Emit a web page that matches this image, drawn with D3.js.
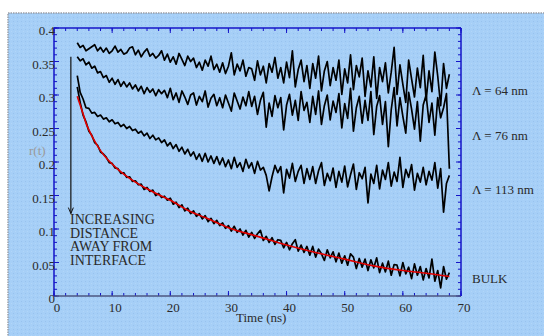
<!DOCTYPE html>
<html>
<head>
<meta charset="utf-8">
<script src="https://cdn.jsdelivr.net/npm/d3@7"></script>
<style>
    body { margin: 0; background: #fff; }
    svg { display: block; }
    text { font-family: "Liberation Serif", "Times New Roman", serif; }
</style>
</head>
<body>
<svg id="chart" width="544" height="336"></svg>
<script>
// time axis (ns), one sample every 0.5 ns
const time = [
    4, 4.5, 5, 5.5, 6, 6.5, 7, 7.5, 8, 8.5, 9, 9.5, 10, 10.5, 11, 11.5, 12, 12.5, 13, 13.5,
    14, 14.5, 15, 15.5, 16, 16.5, 17, 17.5, 18, 18.5, 19, 19.5, 20, 20.5, 21, 21.5, 22, 22.5, 23, 23.5,
    24, 24.5, 25, 25.5, 26, 26.5, 27, 27.5, 28, 28.5, 29, 29.5, 30, 30.5, 31, 31.5, 32, 32.5, 33, 33.5,
    34, 34.5, 35, 35.5, 36, 36.5, 37, 37.5, 38, 38.5, 39, 39.5, 40, 40.5, 41, 41.5, 42, 42.5, 43, 43.5,
    44, 44.5, 45, 45.5, 46, 46.5, 47, 47.5, 48, 48.5, 49, 49.5, 50, 50.5, 51, 51.5, 52, 52.5, 53, 53.5,
    54, 54.5, 55, 55.5, 56, 56.5, 57, 57.5, 58, 58.5, 59, 59.5, 60, 60.5, 61, 61.5, 62, 62.5, 63, 63.5,
    64, 64.5, 65, 65.5, 66, 66.5, 67, 67.5, 68
];

const lambda64 = [
    0.378, 0.371, 0.374, 0.366, 0.369, 0.372, 0.375, 0.366, 0.371, 0.364,
    0.370, 0.362, 0.366, 0.373, 0.364, 0.368, 0.361, 0.363, 0.370, 0.372,
    0.360, 0.367, 0.357, 0.364, 0.369, 0.358, 0.362, 0.355, 0.359, 0.366,
    0.352, 0.361, 0.349, 0.357, 0.346, 0.362, 0.353, 0.344, 0.358, 0.350,
    0.355, 0.341, 0.349, 0.337, 0.352, 0.343, 0.358, 0.338, 0.346, 0.334,
    0.348, 0.332, 0.343, 0.363, 0.330, 0.346, 0.336, 0.352, 0.328, 0.341,
    0.339, 0.322, 0.351, 0.330, 0.343, 0.318, 0.347, 0.334, 0.356, 0.325,
    0.341, 0.318, 0.349, 0.326, 0.366, 0.312, 0.338, 0.352, 0.320, 0.344,
    0.310, 0.347, 0.325, 0.358, 0.306, 0.336, 0.350, 0.314, 0.341, 0.322,
    0.352, 0.301, 0.339, 0.318, 0.360, 0.308, 0.344, 0.327, 0.355, 0.298,
    0.336, 0.312, 0.357, 0.295, 0.341, 0.320, 0.348, 0.303, 0.334, 0.371,
    0.301, 0.345, 0.316, 0.289, 0.352, 0.324, 0.297, 0.340, 0.311, 0.359,
    0.292, 0.336, 0.305, 0.364, 0.328, 0.284, 0.347, 0.310, 0.331
];

const lambda76 = [
    0.357, 0.351, 0.354, 0.345, 0.349, 0.340, 0.343, 0.333, 0.335, 0.326,
    0.329, 0.319, 0.325, 0.316, 0.323, 0.313, 0.320, 0.312, 0.318, 0.309,
    0.315, 0.306, 0.313, 0.302, 0.311, 0.304, 0.309, 0.299, 0.308, 0.302,
    0.307, 0.296, 0.310, 0.293, 0.303, 0.289, 0.306, 0.297, 0.286, 0.300,
    0.303, 0.285, 0.298, 0.290, 0.306, 0.282, 0.295, 0.301, 0.284, 0.296,
    0.281, 0.300, 0.288, 0.276, 0.303, 0.291, 0.279, 0.297, 0.284, 0.305,
    0.283, 0.298, 0.271, 0.292, 0.304, 0.252, 0.288, 0.268, 0.299, 0.281,
    0.296, 0.248, 0.285, 0.301, 0.270, 0.292, 0.262, 0.305, 0.277, 0.289,
    0.259, 0.298, 0.271, 0.306, 0.256, 0.284, 0.300, 0.263, 0.291, 0.274,
    0.302, 0.251, 0.287, 0.265, 0.310, 0.246, 0.281, 0.298, 0.258, 0.292,
    0.262, 0.305, 0.241, 0.283, 0.299, 0.256, 0.290, 0.223, 0.278, 0.311,
    0.254, 0.296, 0.268, 0.243, 0.304, 0.279, 0.249, 0.290, 0.231, 0.285,
    0.300, 0.259, 0.288, 0.240, 0.296, 0.266, 0.281, 0.302, 0.190
];

const lambda113 = [
    0.329, 0.304, 0.294, 0.281, 0.280, 0.273, 0.274, 0.268, 0.270, 0.264,
    0.266, 0.260, 0.263, 0.257, 0.259, 0.253, 0.256, 0.250, 0.253, 0.247,
    0.249, 0.243, 0.246, 0.239, 0.243, 0.235, 0.240, 0.233, 0.236, 0.229,
    0.233, 0.224, 0.229, 0.220, 0.226, 0.216, 0.222, 0.212, 0.219, 0.209,
    0.215, 0.204, 0.212, 0.201, 0.213, 0.200, 0.209, 0.198, 0.208, 0.196,
    0.206, 0.193, 0.203, 0.190, 0.207, 0.192, 0.199, 0.186, 0.204, 0.191,
    0.199, 0.183, 0.201, 0.188, 0.192, 0.180, 0.157, 0.178, 0.195, 0.184,
    0.193, 0.154, 0.189, 0.176, 0.198, 0.171, 0.186, 0.195, 0.168, 0.190,
    0.174, 0.193, 0.168, 0.187, 0.199, 0.165, 0.183, 0.172, 0.191, 0.162,
    0.186, 0.170, 0.194, 0.163, 0.181, 0.197, 0.159, 0.184, 0.175, 0.192,
    0.139, 0.182, 0.168, 0.195, 0.160, 0.188, 0.174, 0.199, 0.164, 0.185,
    0.171, 0.207, 0.162, 0.189, 0.177, 0.196, 0.158, 0.183, 0.170, 0.192,
    0.166, 0.186, 0.173, 0.199, 0.161, 0.190, 0.125, 0.168, 0.180
];

const bulk = [
    0.312, 0.289, 0.270, 0.260, 0.246, 0.240, 0.229, 0.225, 0.215, 0.212,
    0.207, 0.199, 0.198, 0.191, 0.190, 0.183, 0.184, 0.177, 0.178, 0.171,
    0.172, 0.166, 0.167, 0.159, 0.162, 0.156, 0.158, 0.150, 0.153, 0.147,
    0.149, 0.143, 0.146, 0.137, 0.140, 0.132, 0.136, 0.127, 0.131, 0.123,
    0.127, 0.119, 0.123, 0.115, 0.120, 0.111, 0.116, 0.108, 0.113, 0.105,
    0.109, 0.101, 0.105, 0.097, 0.104, 0.095, 0.100, 0.091, 0.098, 0.088,
    0.095, 0.086, 0.093, 0.098, 0.083, 0.089, 0.080, 0.087, 0.077, 0.084,
    0.083, 0.072, 0.080, 0.069, 0.078, 0.084, 0.067, 0.076, 0.065, 0.074,
    0.061, 0.074, 0.058, 0.070, 0.063, 0.053, 0.069, 0.057, 0.066, 0.051,
    0.064, 0.049, 0.060, 0.046, 0.063, 0.058, 0.041, 0.056, 0.043, 0.055,
    0.038, 0.054, 0.042, 0.057, 0.035, 0.049, 0.036, 0.052, 0.031, 0.047,
    0.046, 0.030, 0.050, 0.033, 0.043, 0.026, 0.048, 0.031, 0.044, 0.024,
    0.041, 0.027, 0.055, 0.022, 0.038, 0.012, 0.044, 0.025, 0.035
];

// fitted curve through the bulk data
const fitTime = [4, 4.5, 5, 5.5, 6, 7, 8, 9, 10, 11, 12, 14, 16, 18, 20, 23, 26, 30, 35, 40, 45, 50, 55, 60, 64, 68];
const fitValue = [0.298, 0.285, 0.272, 0.258, 0.248, 0.231, 0.217, 0.206, 0.197, 0.189, 0.182, 0.170, 0.160, 0.151, 0.143, 0.128, 0.117, 0.102, 0.089, 0.076, 0.065, 0.055, 0.045, 0.038, 0.034, 0.029];

const seriesLabels = ["\u039B = 64 nm", "\u039B = 76 nm", "\u039B = 113 nm", "BULK"];
const labelLevels = [0.3, 0.233, 0.152, 0.019];

const xTicks = [0, 10, 20, 30, 40, 50, 60, 70];
const yTicks = [0, 0.05, 0.1, 0.15, 0.2, 0.25, 0.3, 0.35, 0.4];
const yTickLabels = ["0", "0.05", "0.1", "0.15", "0.2", "0.25", "0.3", "0.35", "0.4"];

const noteLines = ["INCREASING", "DISTANCE", "AWAY FROM", "INTERFACE"];
const arrowTime = 2.9, arrowFrom = 0.357, arrowTo = 0.123;

const svg = d3.select("#chart");
const margin = { left: 54, top: 28, right: 461, bottom: 296 };

const x = d3.scaleLinear().domain([0, 70]).range([margin.left, margin.right]);
const y = d3.scaleLinear().domain([0, 0.4]).range([margin.bottom, margin.top]);

// dotted blue panel
const defs = svg.append("defs");
const pat = defs.append("pattern")
    .attr("id", "dots").attr("width", 4).attr("height", 4)
    .attr("patternUnits", "userSpaceOnUse");
pat.append("rect").attr("width", 4).attr("height", 4).attr("fill", "#a6cff7");
pat.append("rect").attr("x", 1).attr("y", 1).attr("width", 1).attr("height", 1).attr("fill", "#98c2ee");
pat.append("rect").attr("x", 3).attr("y", 3).attr("width", 1).attr("height", 1).attr("fill", "#b2d6f8");

svg.append("rect")
    .attr("x", 8).attr("y", 13).attr("width", 540).attr("height", 330)
    .attr("fill", "url(#dots)")
    .attr("stroke", "#9a9fa8").attr("stroke-width", 1.5)
    .attr("stroke-dasharray", "1.5,1");

// axes
const axisBlue = "#1414c8";
const xMinor = d3.range(0, 71, 2);
const yMinor = d3.range(0, 41, 1).map(d => d / 100);

function tickLines(vals, major, horizontal, pos, dir) {
    svg.append("g").selectAll("line")
        .data(vals)
        .join("line")
        .attr("x1", d => horizontal ? x(d) : pos)
        .attr("x2", d => horizontal ? x(d) : pos + dir * (major ? 5 : 3))
        .attr("y1", d => horizontal ? pos : y(d))
        .attr("y2", d => horizontal ? pos + dir * (major ? 5 : 3) : y(d))
        .attr("stroke", axisBlue).attr("stroke-width", 1);
}

tickLines(xMinor, false, true, y(0), -1);
tickLines(xTicks, true, true, y(0), -1);
tickLines(xMinor, false, true, y(0.4), 1);
tickLines(xTicks, true, true, y(0.4), 1);
tickLines(yMinor, false, false, x(0), 1);
tickLines(yTicks, true, false, x(0), 1);
tickLines(yMinor, false, false, x(70), -1);
tickLines(yTicks, true, false, x(70), -1);

svg.append("line")
    .attr("x1", x(0)).attr("x2", x(70)).attr("y1", y(0)).attr("y2", y(0))
    .attr("stroke", "#4b5680").attr("stroke-width", 1.5);
svg.append("line")
    .attr("x1", x(0)).attr("x2", x(70)).attr("y1", y(0.4)).attr("y2", y(0.4))
    .attr("stroke", axisBlue).attr("stroke-width", 1.5);
svg.append("line")
    .attr("x1", x(0)).attr("x2", x(0)).attr("y1", y(0)).attr("y2", y(0.4))
    .attr("stroke", axisBlue).attr("stroke-width", 1.5);
svg.append("line")
    .attr("x1", x(70)).attr("x2", x(70)).attr("y1", y(0)).attr("y2", y(0.4))
    .attr("stroke", axisBlue).attr("stroke-width", 1.5);

// tick labels
svg.append("g").selectAll("text")
    .data(xTicks)
    .join("text")
    .attr("x", d => x(d) + 3).attr("y", 312)
    .attr("text-anchor", "middle")
    .attr("font-size", 13).attr("fill", "#2a2a2a")
    .text(d => d);

svg.append("g").selectAll("text")
    .data(yTicks)
    .join("text")
    .attr("x", x(0) + 1).attr("y", d => y(d) + 7)
    .attr("text-anchor", "end")
    .attr("font-size", 13).attr("fill", "#2a2a2a")
    .text((d, i) => yTickLabels[i]);

svg.append("text")
    .attr("x", 29).attr("y", 155)
    .attr("font-size", 13).attr("fill", "#9a9a9a")
    .text("r(t)");

svg.append("text")
    .attr("x", 236).attr("y", 322)
    .attr("font-size", 13).attr("fill", "#2a2a2a")
    .text("Time (ns)");

// data curves
const line = d3.line()
    .x((d, i) => x(time[i]))
    .y(d => y(d));

[lambda64, lambda76, lambda113, bulk].forEach(series => {
    svg.append("path")
        .datum(series)
        .attr("d", line)
        .attr("fill", "none")
        .attr("stroke", "#000")
        .attr("stroke-width", 1.7)
        .attr("stroke-linejoin", "round");
});

const fitLine = d3.line()
    .x((d, i) => x(fitTime[i]))
    .y(d => y(d))
    .curve(d3.curveMonotoneX);

svg.append("path")
    .datum(fitValue)
    .attr("d", fitLine)
    .attr("fill", "none")
    .attr("stroke", "#e00000")
    .attr("stroke-width", 1.6);

// series labels on the right
svg.append("g").selectAll("text")
    .data(seriesLabels)
    .join("text")
    .attr("x", x(70) + 11)
    .attr("y", (d, i) => y(labelLevels[i]))
    .attr("font-size", 13).attr("fill", "#2a2a2a")
    .text(d => d);

// arrow + note
svg.append("line")
    .attr("x1", x(arrowTime)).attr("x2", x(arrowTime))
    .attr("y1", y(arrowFrom)).attr("y2", y(arrowTo))
    .attr("stroke", "#111").attr("stroke-width", 1.2);
svg.append("path")
    .attr("d", `M${x(arrowTime) - 2.5},${y(arrowTo) - 6}L${x(arrowTime)},${y(arrowTo)}L${x(arrowTime) + 2.5},${y(arrowTo) - 6}`)
    .attr("fill", "none").attr("stroke", "#111").attr("stroke-width", 1);

svg.append("g").selectAll("text")
    .data(noteLines)
    .join("text")
    .attr("x", 70).attr("y", (d, i) => 224 + i * 13.7)
    .attr("font-size", 14).attr("fill", "#2a2a2a")
    .text(d => d);
</script>
</body>
</html>
